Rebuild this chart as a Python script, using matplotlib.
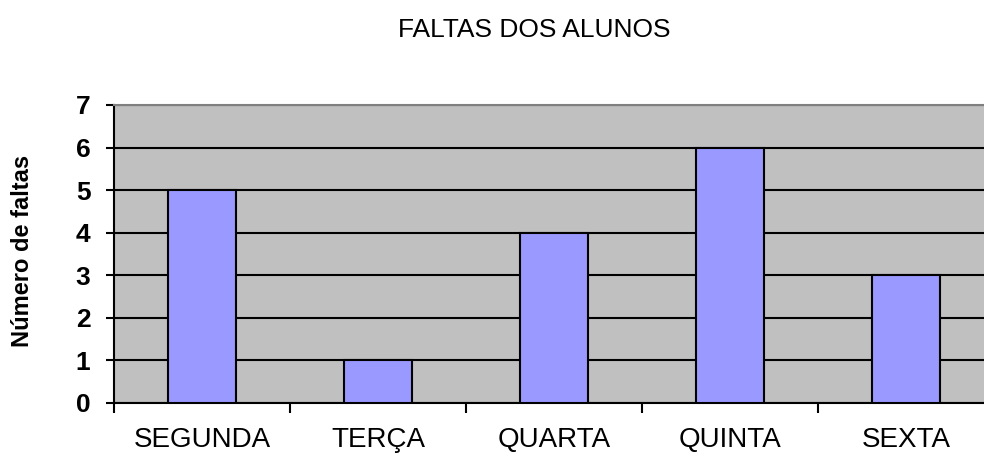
import matplotlib.pyplot as plt
import numpy as np

plt.rcParams['font.family'] = ['Liberation Sans', 'DejaVu Sans']

dias = ['SEGUNDA', 'TERÇA', 'QUARTA', 'QUINTA', 'SEXTA']
faltas = [5, 1, 4, 6, 3]
y_ticks = [0, 1, 2, 3, 4, 5, 6, 7]

fig = plt.figure(figsize=(9.84, 4.58), dpi=100)
# plot area runs a little past the right edge, as in the original
ax = fig.add_axes([114 / 984, 1 - 403 / 458, 880 / 984, 298 / 458])
ax.set_facecolor('#C0C0C0')

x = np.arange(len(dias))
ax.bar(x, faltas, 0.39, color='#9999FF', edgecolor='black', linewidth=1.5, zorder=3)

ax.grid(axis='y', color='black', linewidth=1.5)
ax.set_axisbelow(True)

ax.set_xlim(-0.5, len(dias) - 0.5)
ax.set_ylim(0, 7)
ax.set_xticks(np.arange(len(dias) + 1) - 0.5)
ax.set_xticklabels([])
ax.set_xticks(x, minor=True)
ax.set_xticklabels(dias, minor=True, fontsize=20)
ax.tick_params(axis='x', which='minor', length=0, pad=17)
ax.tick_params(axis='x', which='major', length=7, width=1.5, direction='out')
ax.tick_params(axis='y', length=6, width=1.5, pad=11)
ax.set_yticks(y_ticks)
ax.set_yticklabels([str(v) for v in y_ticks], fontsize=19, fontweight='bold')

ax.spines['left'].set_linewidth(1.5)
ax.spines['bottom'].set_linewidth(1.5)
ax.spines['top'].set_color('#808080')
ax.spines['top'].set_linewidth(1.5)
ax.spines['right'].set_color('#808080')

fig.text(23 / 984, 1 - 251 / 458, 'Número de faltas', rotation=90, fontsize=17,
         fontweight='bold', ha='center', va='center')
fig.text(534 / 984, 1 - 30 / 458, 'FALTAS DOS ALUNOS', fontsize=19,
         ha='center', va='center')

fig.savefig('out.png', dpi=100)
